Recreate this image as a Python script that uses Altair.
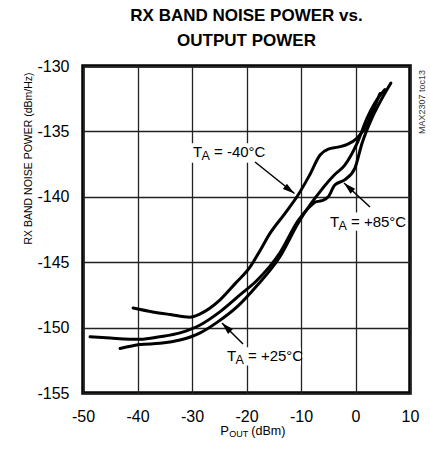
import altair as alt
import pandas as pd

# ---- data ----
x_m40 = [-40.8, -37.2, -34.0, -30.4, -28.5, -24.9, -22.0, -19.4, -17.5, -15.7, -13.0, -10.6, -8.5, -6.5, -5.0, -3.2, -1.5, 0.3, 2.1, 3.3, 4.5]
y_m40 = [-148.5, -148.8, -149.0, -149.2, -148.95, -147.9, -146.6, -145.4, -144.1, -142.8, -141.3, -139.9, -138.4, -136.8, -136.35, -136.2, -136.0, -135.5, -134.5, -133.3, -132.1]

x_25 = [-43.2, -39.5, -35.9, -32.2, -28.5, -25.4, -21.7, -18.1, -13.9, -10.5, -9.3, -6.5, -3.8, -2.0, 0.3, 2.1, 3.6, 5.4]
y_25 = [-151.6, -151.3, -151.2, -150.95, -150.4, -149.6, -148.4, -146.8, -144.6, -142.0, -141.2, -139.6, -138.3, -137.6, -135.9, -134.0, -132.8, -131.8]

x_85 = [-48.7, -45.0, -39.5, -35.9, -32.2, -28.5, -24.9, -21.2, -18.1, -13.9, -10.5, -8.5, -7.4, -6.2, -5.0, -3.8, -2.0, -0.1, 1.2, 3.0, 4.7, 6.5]
y_85 = [-150.7, -150.8, -150.9, -150.7, -150.4, -149.8, -148.8, -147.5, -146.4, -144.3, -141.8, -140.8, -140.4, -140.3, -140.0, -139.1, -138.7, -137.8, -135.9, -134.0, -132.6, -131.3]

x_ticks = [-50, -40, -30, -20, -10, 0, 10]
y_ticks = [-155, -150, -145, -140, -135, -130]

# annotations: label anchor (left of "T", baseline), text, white box, arrow tail/head, head angle
lab_names = ["-40", "+85", "+25"]
lab_x = [-29.82, -4.68, -23.58]
lab_y = [-136.96, -142.31, -152.55]
lab_rest = ["= -40°C", "= +85°C", "= +25°C"]
box_x = [-30.4, -5.2, -24.1]
box_x2 = [-16.2, 8.7, -10.0]
box_y = [-135.9, -141.2, -151.5]
box_y2 = [-137.4, -142.6, -152.9]
arr_x = [-18.44, 2.66, -20.64]
arr_y = [-137.34, -140.78, -151.25]
arr_x2 = [-11.2, -2.11, -24.5]
arr_y2 = [-139.75, -138.95, -149.65]
arr_ang = [126.9, 312.7, 315.0]

# x-axis title anchor
xt_x = [-24.8]
xt_y = [-158.2]

FONT = "Liberation Sans"

rows = []
for name, xs_, ys_ in [("-40", x_m40, y_m40), ("+25", x_25, y_25), ("+85", x_85, y_85)]:
    for i, (a, b) in enumerate(zip(xs_, ys_)):
        rows.append({"T": name, "x": a, "y": b, "i": i})
curves = pd.DataFrame(rows)

labels = pd.DataFrame({
    "name": lab_names, "lx": lab_x, "ly": lab_y, "rest": lab_rest,
    "bx": box_x, "bx2": box_x2, "by": box_y, "by2": box_y2,
    "ax": arr_x, "ay": arr_y, "ax2": arr_x2, "ay2": arr_y2, "ang": arr_ang,
})
xtitle = pd.DataFrame({"lx": xt_x, "ly": xt_y})

xs = alt.Scale(domain=[-50, 10], nice=False, zero=False)
ys = alt.Scale(domain=[-155, -130], nice=False, zero=False)

X = alt.X("x:Q", scale=xs, axis=alt.Axis(
    values=x_ticks, title=None, grid=True, ticks=False, domain=False, labelFlush=False,
    labelFont=FONT, labelFontSize=16, labelColor="#000", labelPadding=15,
    labelExpr="'' + datum.value", gridColor="#222", gridWidth=1.3, gridOpacity=1))
Y = alt.Y("y:Q", scale=ys, axis=alt.Axis(
    values=y_ticks, grid=True, ticks=False, domain=False, labelFlush=False,
    labelFont=FONT, labelFontSize=16, labelColor="#000", labelPadding=14,
    labelExpr="'' + datum.value", gridColor="#222", gridWidth=1.3, gridOpacity=1,
    title="RX BAND NOISE POWER (dBm/Hz)", titleFont=FONT, titleFontSize=10.5,
    titleFontWeight="normal", titleColor="#000", titleAngle=-90,
    titleX=-55, titleY=92, titleAlign="center", titleBaseline="middle"))

boxes = alt.Chart(labels).mark_rect(color="white").encode(
    x=alt.X("bx:Q", scale=xs), x2="bx2:Q", y=alt.Y("by:Q", scale=ys), y2="by2:Q")

lines = alt.Chart(curves).mark_line(
    color="black", strokeWidth=3, interpolate="monotone", strokeCap="round"
).encode(x=X, y=Y, detail="T:N", order="i:Q")

arrows = alt.Chart(labels).mark_rule(color="black", strokeWidth=1.5).encode(
    x=alt.X("ax:Q", scale=xs), y=alt.Y("ay:Q", scale=ys), x2="ax2:Q", y2="ay2:Q")

heads = alt.Chart(labels).mark_point(
    shape="M0,0L-0.45,1.6L0.45,1.6Z", filled=True, color="black", opacity=1, size=225
).encode(x=alt.X("ax2:Q", scale=xs), y=alt.Y("ay2:Q", scale=ys),
         angle=alt.Angle("ang:Q", scale=None))

t_main = alt.Chart(labels).mark_text(
    text="T", align="left", baseline="alphabetic", font=FONT, fontSize=15, color="black"
).encode(x=alt.X("lx:Q", scale=xs), y=alt.Y("ly:Q", scale=ys))
t_sub = alt.Chart(labels).mark_text(
    text="A", align="left", baseline="alphabetic", font=FONT, fontSize=12.5, color="black",
    dx=8.5, dy=3
).encode(x=alt.X("lx:Q", scale=xs), y=alt.Y("ly:Q", scale=ys))
t_rest = alt.Chart(labels).mark_text(
    align="left", baseline="alphabetic", font=FONT, fontSize=15, color="black", dx=21
).encode(x=alt.X("lx:Q", scale=xs), y=alt.Y("ly:Q", scale=ys), text="rest:N")

xt1 = alt.Chart(xtitle).mark_text(
    text="P", align="left", baseline="alphabetic", font=FONT, fontSize=13, color="black"
).encode(x=alt.X("lx:Q", scale=xs), y=alt.Y("ly:Q", scale=ys))
xt2 = alt.Chart(xtitle).mark_text(
    text="OUT", align="left", baseline="alphabetic", font=FONT, fontSize=9, color="black",
    dx=8.8, dy=2
).encode(x=alt.X("lx:Q", scale=xs), y=alt.Y("ly:Q", scale=ys))
xt3 = alt.Chart(xtitle).mark_text(
    text="(dBm)", align="left", baseline="alphabetic", font=FONT, fontSize=12.5, color="black",
    dx=31
).encode(x=alt.X("lx:Q", scale=xs), y=alt.Y("ly:Q", scale=ys))

side = alt.Chart(xtitle).mark_text(
    text="MAX2307 toc13", align="right", baseline="middle", angle=270,
    font=FONT, fontSize=9, color="#333"
).encode(x=alt.value(339), y=alt.value(4))

chart = alt.layer(
    lines, boxes, arrows, heads, t_main, t_sub, t_rest, xt1, xt2, xt3, side
).properties(
    width=327, height=327,
    title=alt.TitleParams(
        ["RX BAND NOISE POWER vs.", "OUTPUT POWER" + "\u00a0" * 8],
        font=FONT, fontSize=17, fontWeight="bold", color="black",
        anchor="middle", lineHeight=25, offset=8, frame="group"),
    autosize=alt.AutoSizeParams(type="none"),
    padding={"left": 83, "top": 66, "right": 20, "bottom": 60},
    background="white",
).configure_view(stroke="black", strokeWidth=3.5)

chart.save("out.html", embed_options={"renderer": "svg", "actions": False})
